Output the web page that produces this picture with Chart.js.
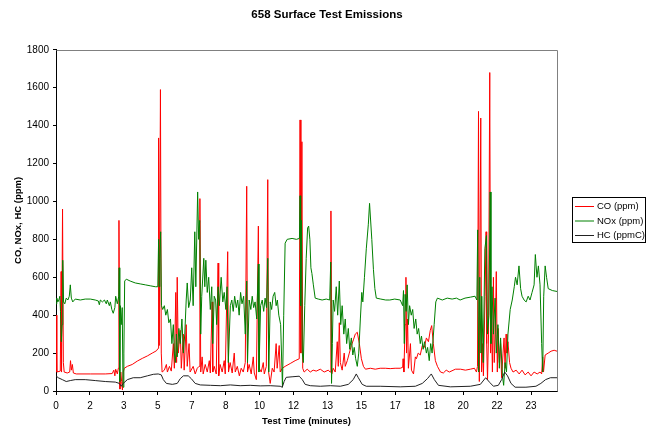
<!DOCTYPE html>
<html><head><meta charset="utf-8">
<script src="https://cdn.jsdelivr.net/npm/chart.js@4.4.1/dist/chart.umd.min.js"></script>
<style>html,body{margin:0;padding:0;background:#fff;} canvas{display:block;}</style>
</head><body>
<canvas id="c" width="663" height="427"></canvas>
<script>
const chartTitle = '658 Surface Test Emissions';
const xAxisTitle = 'Test Time (minutes)';
const yAxisTitle = 'CO, NOx, HC (ppm)';
const seriesNames = ['CO (ppm)', 'NOx (ppm)', 'HC (ppmC)'];
const seriesColors = ['#ff0000', '#008000', '#222222'];

// x tick positions (minutes) and their labels, as Excel showed them
const xTickValues = [0, 1.66, 3.32, 4.98, 6.64, 8.30, 9.96, 11.62, 13.28, 14.94, 16.60, 18.26, 19.92, 21.58, 23.24];
const xTickLabels = ['0', '2', '3', '5', '7', '8', '10', '12', '13', '15', '17', '18', '20', '22', '23'];

// CO (ppm)
const coTime = [0,0.04,0.21,0.25,0.27,0.32,0.36,0.40,0.55,0.67,0.71,0.75,0.80,0.85,0.99,1.68,2.41,2.75,2.83,2.88,2.92,3.00,3.05,3.08,3.11,3.13,3.17,3.21,3.25,3.29,3.34,3.49,3.73,3.98,4.22,4.47,4.71,4.91,5.00,5.02,5.05,5.11,5.15,5.19,5.30,5.40,5.45,5.55,5.64,5.74,5.79,5.86,5.90,5.93,5.98,6.08,6.13,6.23,6.27,6.37,6.42,6.51,6.56,6.71,6.81,6.91,7.00,7.04,7.08,7.15,7.20,7.30,7.40,7.50,7.55,7.64,7.67,7.74,7.84,7.93,7.96,8.03,8.13,8.23,8.28,8.40,8.44,8.52,8.62,8.72,8.77,8.87,8.97,9.06,9.16,9.26,9.33,9.37,9.45,9.55,9.65,9.70,9.80,9.90,9.94,10.04,10.14,10.19,10.29,10.36,10.40,10.48,10.58,10.67,10.77,10.82,10.92,10.97,11.07,11.21,11.46,11.70,11.90,11.94,11.98,12.03,12.07,12.14,12.29,12.44,12.58,12.73,12.93,13.12,13.32,13.41,13.45,13.49,13.56,13.66,13.76,13.81,13.86,13.91,14.00,14.10,14.15,14.25,14.35,14.45,14.55,14.64,14.74,14.84,14.94,15.04,15.14,15.38,15.62,15.86,16.11,16.35,16.59,16.84,16.96,16.98,17.02,17.08,17.12,17.15,17.20,17.24,17.34,17.39,17.49,17.58,17.63,17.72,17.82,17.92,18.02,18.12,18.22,18.31,18.38,18.46,18.56,18.66,18.81,18.95,19.09,19.24,19.54,19.79,20.03,20.27,20.47,20.57,20.62,20.67,20.71,20.78,20.82,20.87,20.91,20.99,21.04,21.07,21.11,21.16,21.22,21.26,21.30,21.35,21.40,21.44,21.49,21.54,21.59,21.63,21.69,21.75,21.80,21.87,21.92,21.97,22.02,22.06,22.11,22.19,22.26,22.36,22.51,22.66,22.80,22.95,23.10,23.24,23.39,23.54,23.68,23.76,23.81,23.85,23.93,24.08,24.22,24.37,24.51];
const coValues = [400,100,105,630,100,960,150,100,95,100,160,110,140,95,90,90,90,92,110,80,115,90,120,900,60,10,100,50,5,100,120,130,140,158,172,185,200,212,225,1335,240,1590,200,100,110,140,100,130,105,250,120,520,150,600,200,320,120,300,110,350,130,250,100,130,90,120,130,1015,100,180,90,140,100,160,95,470,100,130,90,675,80,140,100,160,90,735,100,150,95,200,100,130,80,120,100,150,1080,100,140,90,180,95,60,870,120,100,150,90,130,1115,100,40,120,100,250,120,240,100,120,130,145,160,170,1430,200,1315,120,100,115,100,110,105,115,100,110,100,950,90,120,100,260,130,360,150,110,200,130,160,200,240,270,300,310,250,170,130,115,120,115,120,120,118,120,120,125,170,100,350,600,200,380,120,250,110,90,180,170,200,190,240,230,280,260,320,345,250,160,130,100,95,110,100,115,115,110,115,120,100,130,1475,50,1440,100,250,80,500,840,250,60,300,1680,200,400,100,600,150,300,630,100,330,150,250,70,200,280,120,300,200,260,150,120,100,110,90,110,85,100,80,100,90,100,90,180,100,190,200,210,215,210];

// NOx (ppm)
const noxTime = [0,0.04,0.09,0.14,0.19,0.22,0.26,0.30,0.33,0.37,0.43,0.50,0.58,0.65,0.70,0.75,0.82,0.94,1.19,1.43,1.68,1.92,2.07,2.12,2.17,2.27,2.37,2.46,2.51,2.61,2.66,2.73,2.80,2.88,2.92,3.00,3.07,3.09,3.12,3.15,3.19,3.24,3.28,3.32,3.36,3.44,3.63,3.88,4.12,4.37,4.61,4.86,4.98,5.02,5.05,5.08,5.12,5.16,5.22,5.30,5.37,5.45,5.52,5.60,5.67,5.74,5.79,5.84,5.89,5.93,6.01,6.08,6.16,6.23,6.30,6.37,6.42,6.49,6.57,6.64,6.71,6.79,6.84,6.93,6.98,7.03,7.08,7.13,7.23,7.28,7.33,7.40,7.47,7.55,7.62,7.67,7.74,7.81,7.86,7.93,7.99,8.08,8.16,8.23,8.31,8.37,8.43,8.53,8.60,8.67,8.74,8.82,8.89,8.96,9.03,9.10,9.18,9.26,9.33,9.37,9.45,9.53,9.60,9.67,9.74,9.82,9.90,9.93,10.01,10.09,10.16,10.23,10.30,10.36,10.41,10.48,10.55,10.62,10.70,10.77,10.83,10.90,10.99,11.08,11.14,11.21,11.31,11.55,11.76,11.91,11.94,11.97,12.01,12.05,12.10,12.17,12.24,12.31,12.36,12.42,12.47,12.52,12.59,12.68,12.83,13.02,13.22,13.39,13.44,13.48,13.52,13.56,13.63,13.71,13.78,13.86,13.93,14.00,14.08,14.15,14.22,14.30,14.37,14.45,14.52,14.59,14.66,14.74,14.81,14.89,14.96,15.01,15.09,15.18,15.28,15.34,15.45,15.53,15.60,15.67,15.89,16.13,16.33,16.57,16.84,16.96,17.00,17.04,17.08,17.13,17.18,17.24,17.30,17.38,17.45,17.52,17.60,17.67,17.74,17.82,17.88,17.96,18.03,18.12,18.18,18.26,18.33,18.40,18.50,18.58,18.66,18.90,19.14,19.38,19.59,19.77,20.01,20.27,20.50,20.59,20.63,20.68,20.73,20.79,20.83,20.90,20.98,21.06,21.11,21.18,21.24,21.28,21.33,21.40,21.48,21.54,21.62,21.69,21.75,21.84,21.90,21.97,22.04,22.11,22.22,22.32,22.42,22.48,22.56,22.65,22.73,22.80,22.90,23.00,23.10,23.19,23.29,23.39,23.45,23.53,23.60,23.68,23.76,23.81,23.86,23.93,24.00,24.08,24.28,24.51];
const noxValues = [460,490,470,480,500,420,260,350,690,470,460,490,480,500,560,490,470,485,480,485,485,480,475,455,480,470,480,460,480,450,470,430,410,440,500,460,500,650,50,450,350,440,20,200,580,590,580,570,565,560,555,550,550,800,550,700,840,450,430,450,400,430,360,380,250,350,200,150,300,180,330,250,380,200,300,480,570,440,480,650,450,840,550,1050,800,900,300,500,700,550,690,520,600,430,550,250,500,480,350,550,450,600,470,520,430,550,150,450,480,420,500,440,480,400,520,460,500,300,580,150,480,430,500,440,470,380,670,100,450,480,420,490,440,700,100,470,430,500,520,450,480,400,350,20,400,780,800,805,800,805,1030,450,900,200,150,450,700,860,870,800,650,620,560,490,485,480,485,480,680,40,250,480,420,550,400,580,350,450,300,380,250,330,220,280,190,230,170,130,200,380,520,470,600,750,880,990,800,640,540,490,485,480,480,485,480,450,530,250,510,420,560,350,450,400,430,330,380,300,330,250,290,220,260,200,230,160,250,200,350,470,490,480,490,485,490,480,490,495,500,480,850,100,600,200,500,150,750,820,300,400,1050,250,550,300,490,200,350,120,280,80,30,150,100,300,430,480,550,600,560,660,540,500,480,470,500,480,520,560,720,600,660,560,250,100,500,660,600,540,530,525];

// HC (ppmC)
const hcTime = [0,0.11,0.31,0.50,0.70,0.94,1.43,1.92,2.41,2.90,3.10,3.19,3.29,3.49,3.78,4.12,4.47,4.76,5.00,5.15,5.25,5.40,5.69,5.93,6.08,6.23,6.47,6.62,6.81,7.06,7.55,8.04,8.53,9.01,9.50,9.99,10.48,10.97,11.07,11.16,11.26,11.55,11.90,12.05,12.19,12.44,12.93,13.42,13.91,14.30,14.54,14.69,14.79,14.98,15.18,15.86,16.84,17.58,17.92,18.17,18.36,18.51,18.71,19.29,20.27,20.76,21.02,21.22,21.40,21.64,21.80,21.95,22.09,22.26,22.46,22.99,23.48,23.72,23.95,24.19,24.51];
const hcValues = [80,70,60,50,55,60,60,55,50,47,40,25,40,60,70,70,80,88,90,85,60,40,35,40,65,80,80,65,40,32,30,28,32,28,30,27,28,25,20,50,72,75,78,60,35,28,25,28,25,35,60,90,70,35,25,25,22,25,40,65,90,60,30,22,25,35,70,45,25,30,60,100,80,40,20,20,25,40,60,70,70];

const FONT = "'Liberation Sans', Arial, Helvetica, sans-serif";

function pairs(ts, vs) { return ts.map((t, i) => ({ x: t, y: vs[i] })); }

const framePlugin = {
  id: 'frame',
  beforeDatasetsDraw(chart) {
    const { ctx, chartArea: a } = chart;
    ctx.save();
    ctx.strokeStyle = '#808080';
    ctx.lineWidth = 1;
    ctx.beginPath();
    ctx.moveTo(Math.round(a.left) + 0.5, Math.round(a.top) + 0.5);
    ctx.lineTo(Math.round(a.right) + 0.5, Math.round(a.top) + 0.5);
    ctx.lineTo(Math.round(a.right) + 0.5, Math.round(a.bottom) + 0.5);
    ctx.stroke();
    ctx.restore();
  }
};

const legendBoxPlugin = {
  id: 'legendBox',
  afterDraw(chart) {
    const ctx = chart.ctx;
    const ds = chart.data.datasets;
    ctx.save();
    ctx.strokeStyle = '#000';
    ctx.lineWidth = 1;
    ctx.strokeRect(572.5, 197.5, 73, 45);
    ctx.font = '9.5px ' + FONT;
    ctx.textBaseline = 'middle';
    ctx.fillStyle = '#000';
    const rows = [206, 220.5, 235];
    ds.forEach((d, i) => {
      ctx.strokeStyle = d.borderColor;
      ctx.beginPath();
      ctx.moveTo(575, rows[i] + 0.5);
      ctx.lineTo(594, rows[i] + 0.5);
      ctx.stroke();
      ctx.fillText(d.label, 597, rows[i] + 0.5);
    });
    ctx.restore();
  }
};

new Chart(document.getElementById('c'), {
  type: 'line',
  data: {
    datasets: [
      { label: seriesNames[0], data: pairs(coTime, coValues), borderColor: seriesColors[0], borderWidth: 1, pointRadius: 0, tension: 0, fill: false, order: 3 },
      { label: seriesNames[1], data: pairs(noxTime, noxValues), borderColor: seriesColors[1], borderWidth: 1, pointRadius: 0, tension: 0, fill: false, order: 2 },
      { label: seriesNames[2], data: pairs(hcTime, hcValues), borderColor: seriesColors[2], borderWidth: 1, pointRadius: 0, tension: 0, fill: false, order: 1 }
    ]
  },
  options: {
    responsive: false,
    animation: false,
    devicePixelRatio: 1,
    layout: { padding: { left: 0, right: 9, top: 0, bottom: 0 } },
    plugins: {
      legend: { display: false },
      tooltip: { enabled: false },
      title: {
        display: true, text: chartTitle, color: '#000',
        font: { family: FONT, size: 11.5, weight: 'bold' },
        padding: { top: 8, bottom: 28 }
      }
    },
    scales: {
      x: {
        type: 'linear', min: 0, max: 24.51,
        afterBuildTicks(axis) { axis.ticks = xTickValues.map(v => ({ value: v })); },
        afterFit(axis) { axis.height = 36; axis.paddingRight = 106; },
        ticks: {
          autoSkip: false, maxRotation: 0, color: '#000', padding: 5,
          font: { family: FONT, size: 10 },
          callback: (v, i) => xTickLabels[i]
        },
        grid: { drawOnChartArea: false, drawTicks: true, tickLength: 4, color: '#000' },
        border: { display: true, color: '#000', width: 1 },
        title: { display: true, text: xAxisTitle, color: '#000', font: { family: FONT, size: 9.5, weight: 'bold' }, padding: { top: 0, bottom: 0 } }
      },
      y: {
        min: 0, max: 1800,
        afterFit(axis) { axis.width = 56; },
        ticks: { stepSize: 200, color: '#000', padding: 4, font: { family: FONT, size: 10 }, callback: (v) => String(v) },
        grid: { drawOnChartArea: false, drawTicks: true, tickLength: 3, color: '#000' },
        border: { display: true, color: '#000', width: 1 },
        title: { display: true, text: yAxisTitle, color: '#000', font: { family: FONT, size: 9.5, weight: 'bold' }, padding: { top: 13, bottom: 0 } }
      }
    }
  },
  plugins: [framePlugin, legendBoxPlugin]
});
</script>
</body></html>
